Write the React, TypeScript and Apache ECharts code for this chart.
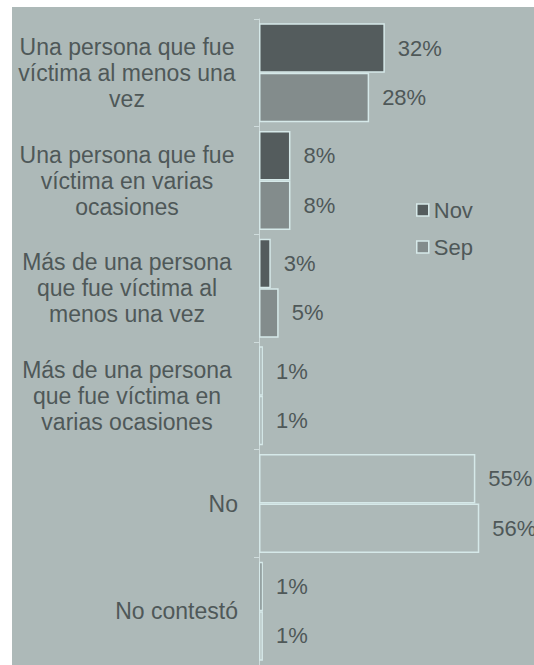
import React, { useEffect, useRef } from "react";
import * as echarts from "echarts";

const categories = [
  "Una persona que fue\nvíctima al menos una\nvez",
  "Una persona que fue\nvíctima en varias\nocasiones",
  "Más de una persona\nque fue víctima al\nmenos una vez",
  "Más de una persona\nque fue víctima en\nvarias ocasiones",
  "No",
  "No contestó",
];
const novValues = [32, 8, 3, 1, 55, 1];
const sepValues = [28, 8, 5, 1, 56, 1];
const seriesNames = ["Nov", "Sep"];

const BG = "#adb9b8";
const NOV_COLOR = "#545c5d";
const SEP_COLOR = "#838c8c";
const BORDER = "#d6e9e9";
const TEXT = "#4f5858";
const FONT = "'Liberation Sans', Arial, sans-serif";

// per-item fill overrides (bars drawn hollow in the reference)
const novFill = [NOV_COLOR, NOV_COLOR, NOV_COLOR, "#8f9999", BG, NOV_COLOR];
const sepFill = [SEP_COLOR, SEP_COLOR, SEP_COLOR, "#8f9999", BG, BG];

export default function App() {
  const ref = useRef<HTMLDivElement>(null);
  useEffect(() => {
    if (!ref.current) return;
    const chart = echarts.init(ref.current, undefined, { renderer: "svg" });
    const mk = (name: string, vals: number[], fills: string[], color: string) => ({
      name,
      type: "bar",
      data: vals.map((v, i) => ({ value: v, itemStyle: { color: fills[i] } })),
      barGap: "0%",
      barCategoryGap: "8%",
      itemStyle: { color, borderColor: BORDER, borderWidth: 1.5 },
      label: {
        show: true,
        position: "right",
        distance: 13,
        formatter: (p: any) => p.value + "%",
        fontSize: 22,
        fontFamily: FONT,
        color: TEXT,
      },
    });
    chart.setOption({
      animation: false,
      backgroundColor: BG,
      textStyle: { fontFamily: FONT },
      grid: { left: 247, top: 12, width: 236, height: 648 },
      legend: {
        orient: "vertical",
        left: 404,
        top: 191,
        padding: 0,
        data: [
          { name: seriesNames[0], itemStyle: { color: NOV_COLOR, borderColor: BORDER, borderWidth: 1.5 } },
          { name: seriesNames[1], itemStyle: { color: SEP_COLOR, borderColor: BORDER, borderWidth: 1.5 } },
        ],
        itemWidth: 12,
        itemHeight: 12,
        itemGap: 13,
        icon: "rect",
        textStyle: { fontSize: 22, lineHeight: 24, color: TEXT, fontFamily: FONT },
      },
      xAxis: {
        type: "value",
        min: 0,
        max: 60,
        show: false,
      },
      yAxis: {
        type: "category",
        inverse: true,
        data: categories,
        axisLine: { show: true, lineStyle: { color: "#cfdcdc", width: 1 } },
        axisTick: { show: true, length: 5, lineStyle: { color: "#cfdcdc" } },
        axisLabel: {
          margin: 21,
          align: "right",
          fontSize: 23,
          lineHeight: 26,
          color: TEXT,
          fontFamily: FONT,
          formatter: (v: string) => {
            const lines = v.split("\n");
            if (lines.length > 1) return lines.map((l) => `{c|${l}}`).join("\n");
            return v;
          },
          rich: {
            c: {
              width: 222,
              align: "center",
              fontSize: 23,
              lineHeight: 26,
              color: TEXT,
              fontFamily: FONT,
            },
          },
        },
      },
      series: [
        mk(seriesNames[0], novValues, novFill, NOV_COLOR),
        mk(seriesNames[1], sepValues, sepFill, SEP_COLOR),
      ],
    });
    return () => chart.dispose();
  }, []);
  return (
    <div style={{ position: "fixed", left: 0, top: 0, width: 534, height: 665, background: "#fff", overflow: "hidden" }}>
      <div ref={ref} style={{ position: "absolute", left: 12, top: 7, width: 522, height: 658 }} />
    </div>
  );
}
